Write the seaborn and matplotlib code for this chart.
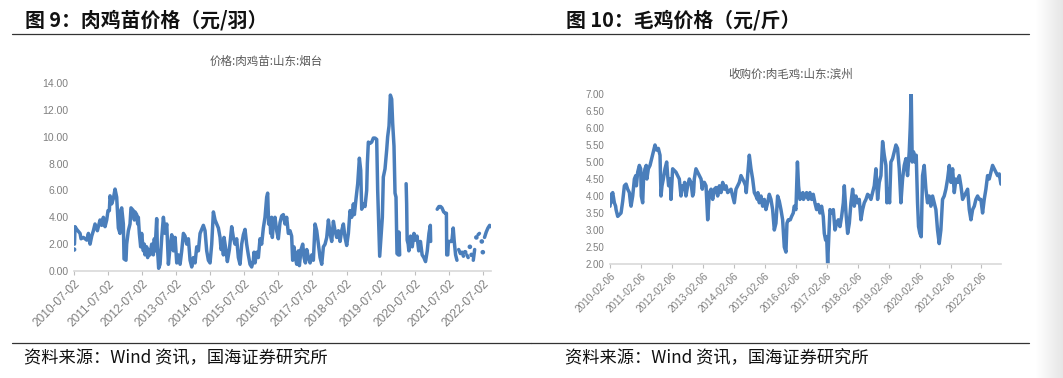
import numpy as np
import pandas as pd
import seaborn as sns
import matplotlib.pyplot as plt
from matplotlib.lines import Line2D
from matplotlib.colors import LinearSegmentedColormap

# =============================================
# data (t = decimal year, NaN = gap in the series)

chick_t = [
    2010.500, 2010.505,
    2010.512, 2010.529, 2010.578, 2010.676, 2010.705, 2010.774, 2010.872, 2010.921, 2010.970, 2011.019,
    2011.068, 2011.116, 2011.185, 2011.263, 2011.312, 2011.361, 2011.410, 2011.459, 2011.498, 2011.537,
    2011.557, 2011.606, 2011.655, 2011.684, 2011.704, 2011.752, 2011.772, 2011.801, 2011.850, 2011.870,
    2011.899, 2011.948, 2011.968, 2012.026, 2012.046, 2012.095, 2012.144, 2012.173, 2012.242, 2012.271,
    2012.291, 2012.340, 2012.369, 2012.388, 2012.418, 2012.457, 2012.486, 2012.535, 2012.565, 2012.584,
    2012.633, 2012.662, 2012.682, 2012.731, 2012.780, 2012.829, 2012.858, 2012.878, 2012.927, 2012.946,
    2012.985, 2013.024, 2013.073, 2013.122, 2013.171, 2013.220, 2013.269, 2013.318, 2013.367, 2013.416,
    2013.465, 2013.514, 2013.563, 2013.612, 2013.660, 2013.709, 2013.758, 2013.807, 2013.856, 2013.905,
    2013.954, 2014.003, 2014.052, 2014.101, 2014.150, 2014.199, 2014.248, 2014.296, 2014.345, 2014.394,
    2014.443, 2014.492, 2014.541, 2014.590, 2014.639, 2014.688, 2014.737, 2014.786, 2014.815, 2014.864,
    2014.884, 2014.903, 2014.962, 2015.001, 2015.060, 2015.128, 2015.177, 2015.226, 2015.275, 2015.324,
    2015.373, 2015.422, 2015.471, 2015.520, 2015.568, 2015.617, 2015.666, 2015.715, 2015.764, 2015.784,
    2015.813, 2015.862, 2015.911, 2015.960, 2016.009, 2016.058, 2016.107, 2016.156, 2016.185, 2016.214,
    2016.253, 2016.273, 2016.302, 2016.322, 2016.351, 2016.400, 2016.449, 2016.498, 2016.547, 2016.596,
    2016.645, 2016.694, 2016.743, 2016.792, 2016.841, 2016.889, 2016.919, 2016.958, 2016.997, 2017.036,
    2017.085, 2017.114, 2017.163, 2017.212, 2017.251, 2017.291, 2017.330, 2017.379, 2017.428, 2017.477,
    2017.525, 2017.574, 2017.623, 2017.672, 2017.721, 2017.770, 2017.819, 2017.868, 2017.917, 2017.966,
    2018.015, 2018.064, 2018.113, 2018.161, 2018.210, 2018.259, 2018.308, 2018.357, 2018.406, 2018.455,
    2018.504, 2018.553, 2018.602, 2018.651, 2018.700, 2018.729, 2018.778, 2018.827, 2018.876, 2018.915,
    2018.944, 2018.993, 2019.042, 2019.091, 2019.111, 2019.140, 2019.189, 2019.238, 2019.287, 2019.336,
    2019.385, 2019.414, 2019.443, 2019.473, 2019.512, 2019.551, 2019.580, 2019.629, 2019.678, 2019.707,
    2019.747, 2019.786, 2019.825, 2019.854, 2019.893, 2019.923, 2019.952, 2019.981, 2020.021, 2020.040,
    2020.060, 2020.150,
    2020.250, 2020.265, 2020.280, 2020.310, 2020.330, 2020.380, 2020.430, 2020.480, 2020.530, 2020.570,
    2020.620, 2020.670, 2020.720, 2020.770, 2020.820, 2020.870, 2020.920, 2020.960, 2020.970, 2021.050,
    2021.160, 2021.210, 2021.260, 2021.300, 2021.350, 2021.400, 2021.430, 2021.440, 2021.470, 2021.490,
    2021.550, 2021.590, 2021.630, 2021.660, 2021.700, 2021.740, 2021.765,
    2021.790, 2021.840, 2021.865,
    2021.890, 2021.930, 2021.955,
    2021.980, 2022.005,
    2022.030, 2022.070, 2022.095,
    2022.120, 2022.145,
    2022.170, 2022.195,
    2022.220, 2022.260, 2022.285,
    2022.310, 2022.335,
    2022.360, 2022.400, 2022.440,
    2022.470, 2022.485,
    2022.500, 2022.525,
    2022.550, 2022.600, 2022.650, 2022.700, 2022.730,
]
chick_v = [
    1.6, np.nan,
    2.0, 3.3, 3.1, 2.8, 2.4, 2.5, 2.3, 2.8, 2.0, 2.6,
    3.0, 3.5, 3.0, 3.8, 3.4, 4.0, 3.3, 3.8, 4.5, 4.5,
    5.6, 5.0, 5.4, 5.8, 6.1, 5.5, 4.5, 3.2, 2.8, 4.5,
    4.7, 3.5, 0.9, 0.8, 2.0, 3.0, 3.5, 4.7, 4.5, 3.8,
    4.4, 4.2, 3.5, 4.0, 2.8, 1.8, 2.8, 1.5, 2.0, 1.2,
    1.8, 1.0, 1.6, 1.2, 2.0, 1.2, 2.4, 1.5, 3.9, 1.8,
    0.2, 0.5, 2.5, 4.0, 2.8, 3.5, 0.5, 1.8, 2.7, 1.5,
    2.5, 0.6, 1.2, 0.5, 1.5, 2.8, 2.6, 2.0, 2.4, 0.8,
    0.3, 1.0, 0.6, 1.8, 1.5, 2.8, 3.1, 3.4, 3.0, 1.5,
    0.8, 0.6, 2.0, 4.4, 3.8, 3.5, 3.2, 2.5, 1.6, 2.0,
    1.2, 2.5, 1.5, 0.7, 1.6, 3.3, 2.5, 2.0, 2.4, 1.0,
    0.5, 2.0, 2.7, 3.1, 2.0, 1.2, 0.5, 0.3, 0.8, 1.4,
    0.6, 1.4, 1.0, 2.4, 2.0, 3.2, 4.0, 5.5, 5.8, 3.5,
    3.8, 2.8, 4.0, 2.5, 3.5, 4.0, 3.0, 2.4, 3.6, 4.1,
    4.2, 3.5, 4.0, 2.8, 3.0, 2.6, 0.8, 1.8, 1.0, 0.5,
    1.5, 0.4, 1.6, 2.0, 1.0, 0.6, 1.6, 1.0, 0.6, 1.2,
    0.8, 3.5, 3.0, 2.0, 1.0, 0.5, 1.8, 2.0, 2.5, 3.8,
    2.8, 2.2, 3.7, 3.0, 2.5, 3.0, 2.2, 3.0, 3.5, 2.5,
    1.9, 2.8, 4.5, 4.0, 5.0, 4.2, 5.4, 6.5, 8.4, 7.5,
    4.6, 5.0, 4.8, 6.0, 8.0, 9.6, 9.5, 9.6, 9.9, 9.9,
    9.8, 6.0, 3.5, 1.1, 2.5, 4.0, 7.0, 7.6, 9.0, 10.0,
    10.8, 13.1, 12.8, 11.0, 9.3, 5.8, 5.5, 1.3, 1.2, 2.9,
    1.2, np.nan,
    6.5, 5.0, 2.3, 2.0, 1.5, 2.6, 1.8, 2.8, 2.3, 2.6,
    1.5, 2.2, 1.2, 1.0, 0.7, 1.5, 2.8, 3.4, 2.2, np.nan,
    4.6, 4.8, 4.8, 4.7, 4.4, 4.3, 4.3, 1.2, 1.2, 2.2,
    2.2, 2.2, 3.2, 2.2, 1.2, 0.8, np.nan,
    1.6, 1.3, np.nan,
    1.4, 1.1, np.nan,
    1.4, np.nan,
    1.2, 1.0, np.nan,
    1.8, np.nan,
    1.2, np.nan,
    0.8, 1.6, np.nan,
    2.5, np.nan,
    2.7, 2.8, np.nan,
    2.2, np.nan,
    1.4, np.nan,
    2.5, 2.9, 3.2, 3.4, 3.3,
]

broiler_t = [
    2010.100, 2010.105, 2010.132, 2010.150, 2010.186, 2010.240, 2010.280, 2010.294, 2010.348, 2010.401,
    2010.455, 2010.509, 2010.563, 2010.617, 2010.670, 2010.724, 2010.760, 2010.778, 2010.832, 2010.886,
    2010.930, 2010.950, 2010.993, 2011.047, 2011.090, 2011.110, 2011.155, 2011.187, 2011.230, 2011.270,
    2011.290, 2011.338, 2011.392, 2011.446, 2011.499, 2011.553, 2011.607, 2011.661, 2011.715, 2011.747,
    2011.779, 2011.822, 2011.876, 2011.930, 2011.962, 2011.994, 2012.048, 2012.070, 2012.124, 2012.177,
    2012.231, 2012.285, 2012.339, 2012.393, 2012.447, 2012.490, 2012.510, 2012.554, 2012.608, 2012.662,
    2012.716, 2012.769, 2012.800, 2012.823, 2012.877, 2012.931, 2012.985, 2013.039, 2013.080, 2013.100,
    2013.146, 2013.200, 2013.254, 2013.308, 2013.362, 2013.415, 2013.469, 2013.523, 2013.577, 2013.631,
    2013.684, 2013.738, 2013.792, 2013.846, 2013.900, 2013.954, 2014.007, 2014.061, 2014.115, 2014.169,
    2014.223, 2014.276, 2014.330, 2014.384, 2014.438, 2014.480, 2014.500, 2014.546, 2014.599, 2014.653,
    2014.707, 2014.761, 2014.815, 2014.860, 2014.875, 2014.922, 2014.976, 2015.030, 2015.084, 2015.137,
    2015.191, 2015.245, 2015.299, 2015.353, 2015.407, 2015.460, 2015.514, 2015.568, 2015.622, 2015.676,
    2015.730, 2015.783, 2015.816, 2015.859, 2015.923, 2015.966, 2016.020, 2016.052, 2016.106, 2016.155,
    2016.192, 2016.235, 2016.289, 2016.330, 2016.350, 2016.397, 2016.451, 2016.505, 2016.558, 2016.612,
    2016.666, 2016.720, 2016.774, 2016.828, 2016.881, 2016.935, 2016.989, 2017.021, 2017.064, 2017.097,
    2017.129, 2017.161, 2017.204, 2017.258, 2017.312, 2017.366, 2017.420, 2017.473, 2017.527, 2017.581,
    2017.635, 2017.667, 2017.721, 2017.775, 2017.829, 2017.882, 2017.936, 2017.990, 2018.044, 2018.098,
    2018.151, 2018.205, 2018.259, 2018.313, 2018.367, 2018.421, 2018.474, 2018.528, 2018.582, 2018.636,
    2018.690, 2018.744, 2018.797, 2018.851, 2018.905, 2018.959, 2019.013, 2019.045, 2019.088, 2019.131,
    2019.174, 2019.228, 2019.282, 2019.336, 2019.389, 2019.443, 2019.497, 2019.551, 2019.605, 2019.659,
    2019.712, 2019.766, 2019.798, 2019.831, 2019.863, 2019.906, 2019.949, 2019.992, 2020.035, 2020.068,
    2020.111, 2020.154, 2020.197, 2020.251, 2020.305, 2020.358, 2020.412, 2020.466, 2020.520, 2020.574,
    2020.628, 2020.681, 2020.735, 2020.789, 2020.843, 2020.897, 2020.951, 2021.004, 2021.058, 2021.112,
    2021.166, 2021.220, 2021.274, 2021.327, 2021.381, 2021.435, 2021.489, 2021.543, 2021.597, 2021.651,
    2021.704, 2021.758, 2021.812, 2021.866, 2021.919, 2021.973, 2022.027, 2022.081, 2022.135, 2022.188,
    2022.242, 2022.296, 2022.350, 2022.404, 2022.458, 2022.512, 2022.565, 2022.619, 2022.673, 2022.727,
]
broiler_v = [
    3.7, 4.05, 3.8, 4.0, 4.1, 3.8, 3.7, 3.6, 3.4, 3.45,
    3.5, 3.85, 4.3, 4.35, 4.2, 4.1, 3.8, 3.7, 4.0, 4.5,
    4.6, 4.3, 4.7, 4.9, 4.8, 4.0, 3.8, 4.6, 4.8, 4.9,
    4.5, 4.8, 4.9, 5.1, 5.3, 5.5, 5.35, 5.4, 5.2, 4.0,
    4.3, 4.5, 4.8, 5.0, 4.6, 4.3, 4.5, 3.9, 4.8, 4.75,
    4.7, 4.6, 4.5, 4.0, 4.3, 4.2, 4.4, 4.0, 4.3, 4.5,
    4.4, 4.0, 4.1, 4.5, 4.8, 4.7, 4.6, 4.5, 4.2, 4.4,
    4.4, 4.3, 3.3, 4.1, 4.2, 3.9, 4.2, 4.25, 4.0, 4.3,
    4.1, 4.4, 4.2, 4.3, 4.1, 4.15, 4.2, 4.0, 3.8, 4.2,
    4.3, 4.4, 4.6, 4.5, 4.4, 4.3, 4.1, 4.6, 5.2, 4.8,
    4.5, 4.1, 4.0, 3.9, 4.1, 3.8, 4.0, 3.7, 3.9, 3.6,
    3.8, 4.05, 3.9, 3.6, 3.0, 3.2, 4.0, 3.85, 3.6, 3.3,
    2.5, 2.35, 3.2, 3.3, 3.3, 3.4, 3.5, 3.7, 3.6, 5.0,
    4.3, 3.9, 4.0, 4.1, 3.9, 4.0, 4.1, 3.9, 4.1, 3.9,
    4.05, 3.8, 3.6, 3.75, 3.5, 3.7, 3.4, 2.9, 2.7, 2.8,
    2.0, 2.7, 3.6, 3.5, 3.6, 3.0, 3.2, 3.3, 3.1, 3.4,
    3.8, 4.3, 3.5, 2.9, 3.2, 3.8, 4.2, 3.7, 4.0, 3.8,
    3.9, 3.3, 3.6, 3.8, 3.9, 4.05, 4.0, 3.9, 4.1, 4.3,
    4.8, 3.9, 4.4, 4.6, 5.6, 5.2, 4.9, 3.8, 4.2, 3.8,
    5.0, 5.1, 5.3, 5.5, 5.4, 4.8, 3.8, 4.5, 4.9, 5.1,
    4.6, 5.3, 6.0, 7.0, 5.0, 5.3, 5.0, 5.2, 3.8, 3.1,
    2.9, 2.8, 4.6, 4.9, 4.2, 3.8, 4.0, 3.7, 4.0, 3.8,
    3.6, 3.0, 2.6, 3.0, 3.9, 4.0, 4.2, 4.5, 4.9, 4.4,
    4.8, 4.1, 4.5, 4.4, 4.6, 4.3, 3.9, 4.0, 4.1, 4.2,
    3.6, 3.3, 3.6, 3.7, 3.9, 4.0, 3.9, 3.9, 3.5, 3.9,
    4.2, 4.6, 4.5, 4.7, 4.9, 4.8, 4.7, 4.6, 4.65, 4.35,
]

chick_years = list(range(2010, 2023))     # ticks on 07-02
broiler_years = list(range(2010, 2023))   # ticks on 02-06
chick_yticks = [0, 2, 4, 6, 8, 10, 12, 14]
broiler_yticks = [2.0, 2.5, 3.0, 3.5, 4.0, 4.5, 5.0, 5.5, 6.0, 6.5, 7.0]

titles = ['图 9：肉鸡苗价格（元/羽）', '图 10：毛鸡价格（元/斤）']
subtitles = ['价格:肉鸡苗:山东:烟台', '收购价:肉毛鸡:山东:滨州']
source = '资料来源：Wind 资讯，国海证券研究所'

# =============================================
BLUE = '#4a7ebb'
TICK_GREY = '#7f7f7f'
W, H = 1063, 378

sns.set_theme(style="white")
plt.rcParams['font.family'] = ['Noto Sans CJK SC', 'DejaVu Sans']


def to_dates(ts):
    return [pd.Timestamp(int(t), 1, 1) + pd.Timedelta(days=(t - int(t)) * 365.25) for t in ts]


def draw_series(ax, ts, vs):
    df = pd.DataFrame({'date': to_dates(ts), 'price': vs})
    df['seg'] = df['price'].isna().cumsum()
    df = df.dropna()
    n = df.groupby('seg')['price'].transform('size')
    sns.lineplot(data=df[n > 1], x='date', y='price', units='seg', estimator=None,
                 color=BLUE, lw=2.5, solid_joinstyle='round', solid_capstyle='round', ax=ax)
    sns.scatterplot(data=df[n == 1], x='date', y='price', color=BLUE, s=11,
                    edgecolor='none', ax=ax)


def style_axis(ax, xticks, xlim, ylim, yticks, xfs, yfs):
    ax.set_xlim(xlim)
    ax.set_ylim(ylim)
    ax.set_xticks(xticks)
    ax.set_xticklabels([d.strftime('%Y-%m-%d') for d in xticks], rotation=45, ha='right',
                       rotation_mode='anchor', fontsize=xfs, color=TICK_GREY,
                       family='Liberation Sans')
    ax.set_yticks(yticks)
    ax.set_yticklabels(['%.2f' % y for y in yticks], fontsize=yfs, color=TICK_GREY,
                       family='Liberation Sans')
    ax.set(xlabel=None, ylabel=None)
    for s in ['top', 'right', 'left']:
        ax.spines[s].set_visible(False)
    ax.spines['bottom'].set_color('#d9d9d9')
    ax.spines['bottom'].set_linewidth(1.2)
    ax.tick_params(axis='x', length=3, width=0.8, color='#bfbfbf', pad=2, bottom=True)
    ax.tick_params(axis='y', length=0, pad=4)
    ax.grid(False)


fig = plt.figure(figsize=(W / 100, H / 100), dpi=100)
fig.patch.set_facecolor('white')

# left: chicks
ax1 = fig.add_axes([74 / W, 1 - 271 / H, 417 / W, 188 / H])
draw_series(ax1, chick_t, chick_v)
style_axis(ax1, pd.to_datetime([f'{y}-07-02' for y in chick_years]),
           (pd.Timestamp('2010-07-02'), to_dates([2022.74])[0]), (0, 14), chick_yticks, 8.6, 7.5)

# right: live broilers
ax2 = fig.add_axes([610 / W, 1 - 264 / H, 391 / W, 170 / H])
draw_series(ax2, broiler_t, broiler_v)
style_axis(ax2, pd.to_datetime([f'{y}-02-06' for y in broiler_years]),
           (pd.Timestamp('2010-02-06'), to_dates([2022.73])[0]), (2, 7), broiler_yticks, 7.2, 7)

# titles, rules, subtitles, source
for x0, x1, xt, xs, ttl, sub, ys in [(12, 531, 25, 266, titles[0], subtitles[0], 61),
                                     (531, 1029, 566, 791, titles[1], subtitles[1], 74)]:
    fig.text(xt / W, 1 - 20 / H, ttl, fontsize=14.3, fontweight='bold', va='center', ha='left',
             color='#111111')
    fig.add_artist(Line2D([x0 / W, x1 / W], [1 - 34 / H, 1 - 34 / H], color='#333333', lw=0.9))
    fig.add_artist(Line2D([x0 / W, x1 / W], [1 - 343 / H, 1 - 343 / H], color='#333333', lw=0.9))
    fig.text(xs / W, 1 - ys / H, sub, fontsize=8.3, va='center', ha='center', color='#595959')
    fig.text((xt - 1) / W, 1 - 358 / H, source, fontsize=12.4, va='center', ha='left',
             color='#111111')

# grey page edge on the right
edge = fig.add_axes([1036 / W, 0, 27 / W, 1])
edge.imshow(np.linspace(0, 1, 50).reshape(1, -1), aspect='auto',
            cmap=LinearSegmentedColormap.from_list('edge', ['#ffffff', '#e6e6e6']))
edge.axis('off')

fig.savefig('out.png', dpi=100, facecolor='white')
